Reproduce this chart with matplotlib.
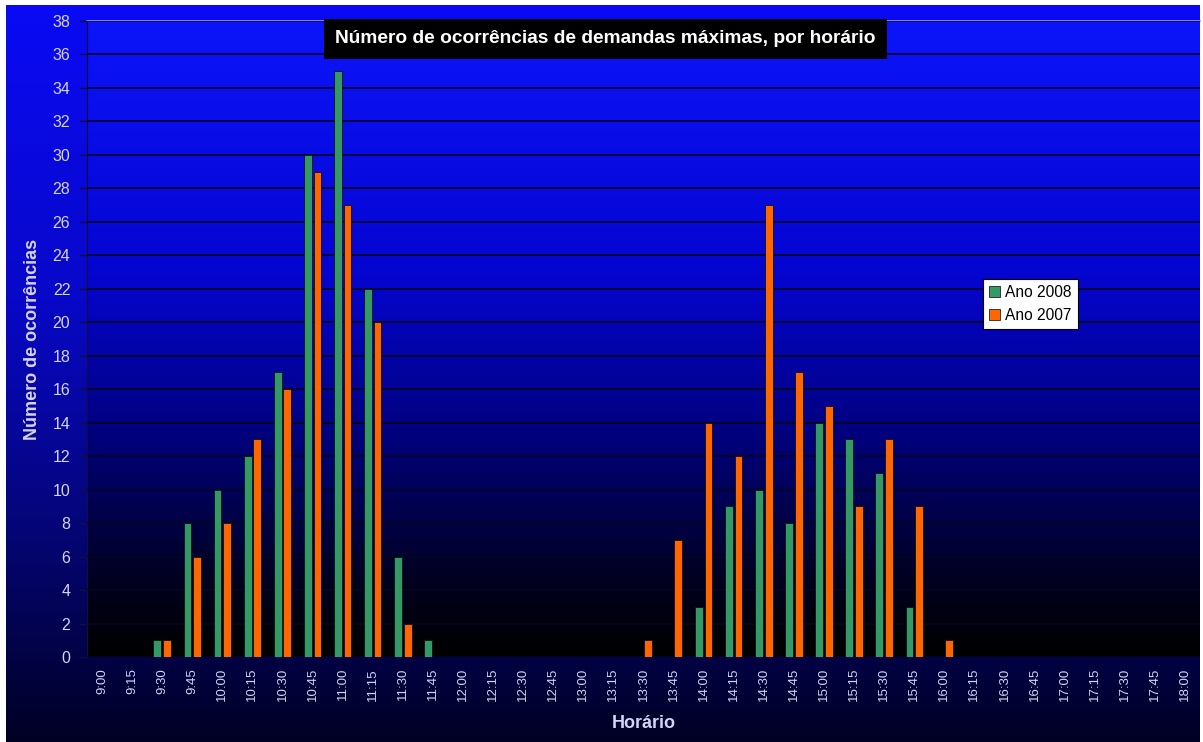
import numpy as np
import matplotlib
matplotlib.use("Agg")
import matplotlib.pyplot as plt
from matplotlib.colors import LinearSegmentedColormap
from matplotlib.patches import Patch

# Time slots, every 15 minutes from 9:00 to 18:00
horarios = [f"{h}:{m:02d}" for h in range(9, 18) for m in (0, 15, 30, 45)] + ["18:00"]

ano_2008 = [0, 0, 1, 8, 10, 12, 17, 30, 35, 22, 6, 1,
            0, 0, 0, 0, 0, 0, 0, 0,
            3, 9, 10, 8, 14, 13, 11, 3,
            0, 0, 0, 0, 0, 0, 0, 0, 0]
ano_2007 = [0, 0, 1, 6, 8, 13, 16, 29, 27, 20, 2, 0,
            0, 0, 0, 0, 0, 0, 1, 7,
            14, 12, 27, 17, 15, 9, 13, 9,
            1, 0, 0, 0, 0, 0, 0, 0, 0]

titulo = "Número de ocorrências de demandas máximas, por horário"
rotulo_x = "Horário"
rotulo_y = "Número de ocorrências"
legendas = ["Ano 2008", "Ano 2007"]

cor_2008 = "#339966"
cor_2007 = "#FF6600"
texto = "#d4d4f4"

plt.rcParams["font.family"] = ["Liberation Sans", "DejaVu Sans"]

fig = plt.figure(figsize=(12.03, 7.42), dpi=100)
fig.patch.set_facecolor("white")

# Figure background: blue fading to dark navy
bg = fig.add_axes([6 / 1203, 0, 1194 / 1203, 737 / 742], zorder=-10)
bg_cmap = LinearSegmentedColormap.from_list(
    "bg", [(0.0, "#000024"), (0.3, "#05057a"), (0.6, "#0808c8"), (1.0, "#0a0af5")])
grad = np.linspace(0, 1, 256).reshape(-1, 1)
bg.imshow(grad, aspect="auto", cmap=bg_cmap, origin="lower",
          extent=[0, 1, 0, 1])
bg.set_axis_off()

# Plot area
ax = fig.add_axes([87 / 1203, 85 / 742, 1113 / 1203, 636 / 742])
ax_cmap = LinearSegmentedColormap.from_list(
    "ax", [(0.0, "#000000"), (0.12, "#000020"), (0.35, "#01017e"),
           (0.6, "#0505d0"), (1.0, "#0c14fa")])
ax.imshow(grad, aspect="auto", cmap=ax_cmap, origin="lower",
          extent=[0, 1, 0, 1], transform=ax.transAxes, zorder=0)

x = np.arange(len(horarios))
largura = 0.26
desloc = 0.16
ax.bar(x - desloc, ano_2008, largura, color=cor_2008, edgecolor="#111111",
       linewidth=0.6, zorder=3, label=legendas[0])
ax.bar(x + desloc, ano_2007, largura, color=cor_2007, edgecolor="#111111",
       linewidth=0.6, zorder=3, label=legendas[1])

ax.set_xlim(-0.5, len(horarios) - 0.5)
ax.set_ylim(0, 38)
ax.set_yticks(np.arange(0, 39, 2))
ax.set_xticks(x)
ax.set_xticklabels(horarios, rotation=90, fontsize=9.5, color=texto)
ax.tick_params(axis="y", labelsize=11.5, labelcolor=texto, color="#101040",
               length=6, width=1, pad=6)
ax.tick_params(axis="x", length=0, pad=8)
ax.yaxis.grid(True, color="#05051e", linewidth=1.2, zorder=1)
ax.set_axisbelow(False)

for s in ("right", "bottom"):
    ax.spines[s].set_visible(False)
ax.spines["left"].set_color("#101040")
ax.spines["top"].set_color("#8c96ff")
ax.spines["top"].set_linewidth(1.2)

ax.set_xlabel(rotulo_x, fontsize=13, fontweight="bold", color=texto, labelpad=10)
ax.set_ylabel(rotulo_y, fontsize=13, fontweight="bold", color=texto, labelpad=8)

ax.text(0.466, 0.972, titulo, transform=ax.transAxes, ha="center", va="center",
        fontsize=13.8, fontweight="bold", color="white", zorder=6,
        bbox=dict(boxstyle="square,pad=0.6", facecolor="black", edgecolor="none"))

handles = [Patch(facecolor=cor_2008, edgecolor="#222222", linewidth=0.6),
           Patch(facecolor=cor_2007, edgecolor="#222222", linewidth=0.6)]
leg = ax.legend(handles, legendas, loc="upper left",
                bbox_to_anchor=(896 / 1113, (657 - 279) / 636),
                fontsize=11.2, frameon=True, fancybox=False, framealpha=1,
                edgecolor="black", facecolor="white", handlelength=0.7,
                handleheight=0.7, handletextpad=0.3, borderpad=0.4,
                labelspacing=0.5, borderaxespad=0)
leg.get_frame().set_linewidth(0.8)
leg.set_zorder(7)

fig.savefig("out.png", dpi=100, facecolor=fig.get_facecolor())
